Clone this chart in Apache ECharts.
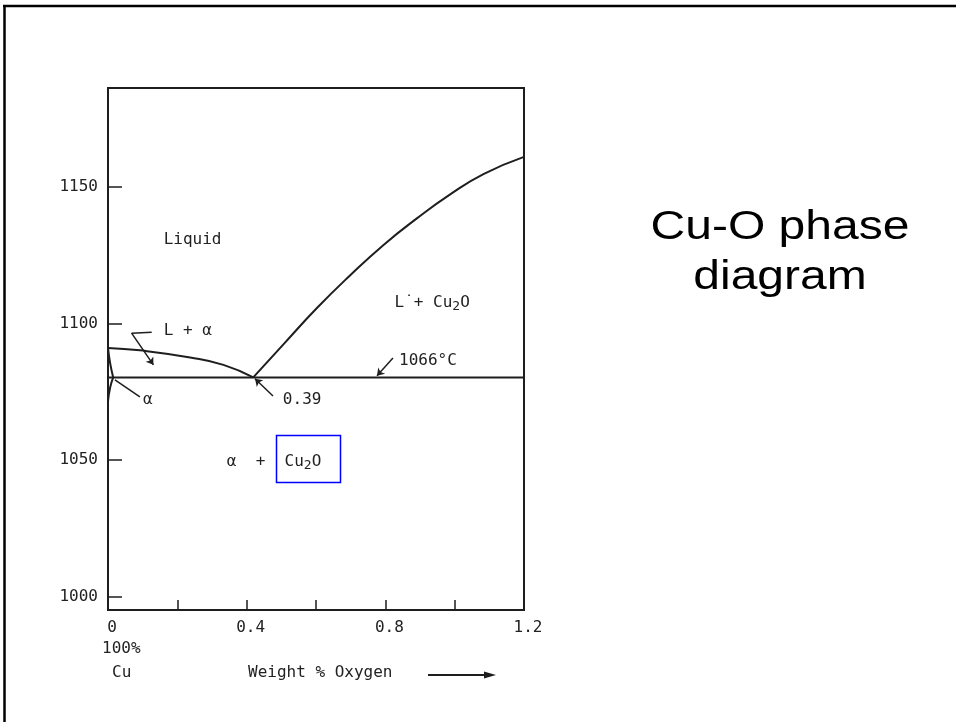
<!DOCTYPE html>
<html>
<head>
<meta charset="utf-8">
<title>Cu-O phase diagram</title>
<script src="https://cdn.jsdelivr.net/npm/echarts@6/dist/echarts.min.js"></script>
<style>
  html, body { margin: 0; padding: 0; background: #fff; }
  #main { width: 956px; height: 722px; }
</style>
</head>
<body>
<div id="main"></div>
<script>
// axis ticks and labels
const xTickValues = [0.2, 0.4, 0.6, 0.8, 1.0];
const xLabelValues = [0, 0.4, 0.8, 1.2];
const yTickValues = [1000, 1050, 1100, 1150];

// phase boundaries, [wt% O, temperature]
const eutectic = [[0, 1080.3], [1.2, 1080.3]];
const liquidusCu = [[0, 1091.1], [0.092, 1090.2], [0.237, 1087.6], [0.333, 1084.9], [0.419, 1080.3]];
const liquidusCu2O = [[0.419, 1080.3], [0.506, 1092.4], [0.602, 1105.6], [0.698, 1117.6], [0.794, 1128.7],
                      [0.890, 1138.4], [0.986, 1147.2], [1.083, 1154.7], [1.2, 1161.0]];
const solidus = [[0, 1091.1], [0.006, 1085.6], [0.015, 1080.3]];
const solvus = [[0.015, 1080.3], [0.006, 1076.5], [0, 1071.5]];

// region labels
const labelPoints = [
    { value: [0.244, 1130.6], name: 'Liquid' },
    { value: [0.230, 1097.3], name: 'L + α' },
    { value: [0.115, 1072.1], name: 'α' },
    { value: [0.560, 1072.1], name: '0.39' },
    { value: [0.923, 1086.4], name: '1066°C' },
    { value: [0.935, 1107.6], name: 'L˙+ Cu{s|2}O' },
    { value: [0.479, 1049.4], name: 'α  +  Cu{s|2}O' }
];

// leader lines: [from, to, arrow at start, arrow at end]
const leaders = [
    [[0.068, 1096.5], [0.126, 1096.8], false, false],
    [[0.068, 1096.5], [0.131, 1084.9], false, true],
    [[0.020, 1079.4], [0.092, 1073.2], false, false],
    [[0.424, 1079.8], [0.476, 1073.5], true, false],
    [[0.776, 1080.9], [0.822, 1087.4], true, false]
];

const ink = '#1e1e1e';
const textInk = '#222';
const mono = '"DejaVu Sans Mono", monospace';

function boundary(data) {
    return {
        type: 'line',
        data: data,
        smooth: 0.5,
        symbol: 'none',
        lineStyle: { color: ink, width: 2 },
        z: 3
    };
}

const chart = echarts.init(document.getElementById('main'));

chart.setOption({
    animation: false,
    grid: {
        left: 108, right: 432, top: 88, bottom: 112,
        show: true, borderColor: ink, borderWidth: 2
    },
    xAxis: {
        type: 'value', min: 0, max: 1.2,
        axisLine: { show: false },
        splitLine: { show: false },
        axisTick: { show: true, inside: true, length: 10, customValues: xTickValues, lineStyle: { color: ink, width: 1.5 } },
        axisLabel: {
            customValues: xLabelValues, margin: 10, padding: [0, 0, 0, 8],
            fontFamily: mono, fontSize: 16, color: textInk,
            formatter: v => v === 0 ? '0' : v.toFixed(1)
        }
    },
    yAxis: {
        type: 'value', min: 995.2, max: 1186.2,
        axisLine: { show: false },
        splitLine: { show: false },
        axisTick: { show: true, inside: true, length: 14, customValues: yTickValues, lineStyle: { color: ink, width: 1.5 } },
        axisLabel: {
            customValues: yTickValues, margin: 10,
            fontFamily: mono, fontSize: 16, color: textInk,
            formatter: v => String(v)
        }
    },
    series: [
        boundary(eutectic),
        boundary(liquidusCu),
        boundary(liquidusCu2O),
        boundary(solidus),
        boundary(solvus),
        {
            type: 'scatter',
            data: labelPoints,
            symbolSize: 0,
            itemStyle: { opacity: 1 },
            label: {
                show: true, position: 'inside',
                fontFamily: mono, fontSize: 16, color: textInk,
                formatter: p => p.name,
                rich: { s: { fontFamily: mono, fontSize: 13, color: textInk, padding: [8, 0, 0, 0] } }
            },
            silent: true,
            z: 4
        },
        {
            type: 'line',
            data: [],
            markLine: {
                silent: true,
                symbolSize: 7,
                label: { show: false },
                lineStyle: { color: ink, width: 1.5, type: 'solid' },
                data: leaders.map(l => [
                    { coord: l[0], symbol: l[2] ? 'arrow' : 'none' },
                    { coord: l[1], symbol: l[3] ? 'arrow' : 'none' }
                ])
            }
        }
    ],
    graphic: [
        // slide frame
        { type: 'line', shape: { x1: 3, y1: 6, x2: 956, y2: 6 }, style: { stroke: '#000', lineWidth: 2.5 } },
        { type: 'line', shape: { x1: 4.5, y1: 5, x2: 4.5, y2: 722 }, style: { stroke: '#000', lineWidth: 2.5 } },
        // highlight box
        { type: 'rect', shape: { x: 276.5, y: 435.5, width: 64, height: 47 }, style: { fill: 'none', stroke: '#0000ff', lineWidth: 1.5 } },
        // below the axis
        { type: 'text', x: 102, y: 649, style: { text: '100%', font: '16px ' + mono, fill: textInk, verticalAlign: 'middle' } },
        { type: 'text', x: 112, y: 673, style: { text: 'Cu', font: '16px ' + mono, fill: textInk, verticalAlign: 'middle' } },
        { type: 'text', x: 248, y: 673, style: { text: 'Weight % Oxygen', font: '16px ' + mono, fill: textInk, verticalAlign: 'middle' } },
        { type: 'line', shape: { x1: 428, y1: 675, x2: 486, y2: 675 }, style: { stroke: ink, lineWidth: 2 } },
        { type: 'polygon', shape: { points: [[484, 671.5], [496, 675], [484, 678.5]] }, style: { fill: ink } },
        // slide title
        { type: 'text', x: 780, y: 228, scaleX: 1.2, style: { text: 'Cu-O phase', font: '40px "Liberation Sans", Arial, sans-serif', fill: '#000', align: 'center', verticalAlign: 'middle' } },
        { type: 'text', x: 780, y: 278, scaleX: 1.2, style: { text: 'diagram', font: '40px "Liberation Sans", Arial, sans-serif', fill: '#000', align: 'center', verticalAlign: 'middle' } }
    ]
});
</script>
</body>
</html>
